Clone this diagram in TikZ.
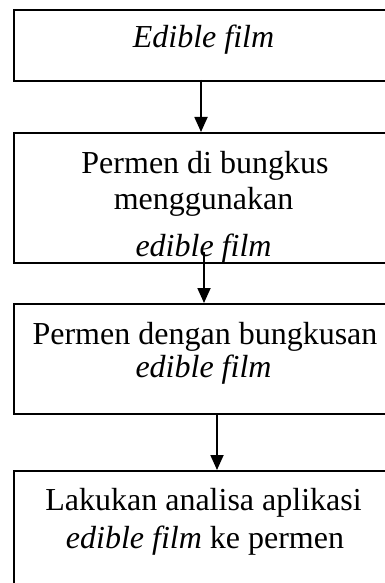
\documentclass[tikz,border=0pt]{standalone}
\usepackage{fontspec}
\setmainfont{Liberation Serif}
\usetikzlibrary{arrows.meta,calc}
\tikzset{
  box/.style={draw=black, line width=1.6pt, rectangle, inner sep=0pt, anchor=north west},
  txt/.style={anchor=base, inner sep=0pt, font=\fontsize{32}{38}\selectfont},
  arr/.style={draw=black, line width=1.8pt, -{Triangle[length=15pt,width=13pt]}}
}
\begin{document}
\begin{tikzpicture}[x=1pt,y=-1pt]
\useasboundingbox (0,0) rectangle (385,583);
\clip (0,0) rectangle (385,583);
\node[box, minimum width=382pt, minimum height=71pt] (b1) at (13,9) {};
\node[box, minimum width=382pt, minimum height=130pt] (b2) at (13,132) {};
\node[box, minimum width=382pt, minimum height=110pt] (b3) at (13,303) {};
\node[box, minimum width=382pt, minimum height=140pt] (b4) at (13,470) {};

\node[txt] (t1) at (203.5,48) {\itshape Edible film};
\node[txt] (t2a) at (205,173) {Permen di bungkus};
\node[txt] (t2b) at (203.5,209) {menggunakan};
\node[txt] (t2c) at (203.5,256) {\itshape edible film};
\node[txt] (t3a) at (205,344) {Permen dengan bungkusan};
\node[txt] (t3b) at (203.5,377) {\itshape edible film};
\node[txt] (t4a) at (203.5,510) {Lakukan analisa aplikasi};
\node[txt] (t4b) at (205,548) {\textit{edible film} ke permen};

\coordinate (a1) at (201,80);
\coordinate (a2) at (204,252);
\coordinate (a3) at (217,413);
\draw[arr] (a1) -- (a1 |- b2.north);
\draw[arr] (a2) -- (a2 |- b3.north);
\draw[arr] (a3) -- (a3 |- b4.north);
\end{tikzpicture}
\end{document}
